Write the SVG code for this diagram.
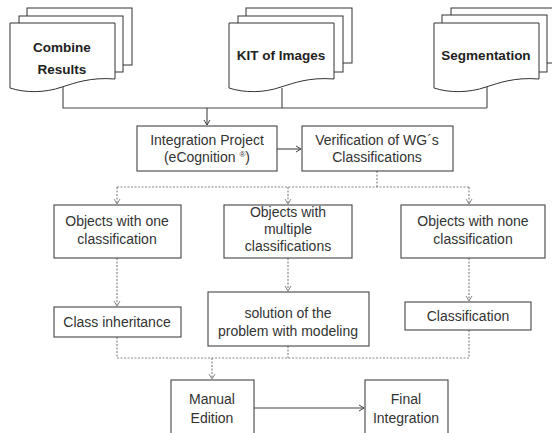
<svg xmlns="http://www.w3.org/2000/svg" width="552" height="433" viewBox="0 0 552 433">
<defs>
<style>
.bg{fill:#ffffff}
.pg{fill:#ffffff;stroke:#333;stroke-width:1}
.box{fill:#ffffff;stroke:#444;stroke-width:1.1}
.ln{fill:none;stroke:#444;stroke-width:1.1}
.dl{fill:none;stroke:#888;stroke-width:1.2;stroke-dasharray:2 1.5}
.b{font-family:"Liberation Sans",Arial,sans-serif;font-weight:bold;font-size:13.5px;fill:#222;text-anchor:middle}
.t{font-family:"Liberation Sans",Arial,sans-serif;font-size:14px;fill:#333;text-anchor:middle}
</style>
<marker id="ah" markerWidth="8" markerHeight="8" refX="6" refY="4" orient="auto" markerUnits="userSpaceOnUse">
<path d="M1,1 L6,4 L1,7" fill="none" stroke="#444" stroke-width="1"/>
</marker>
<marker id="ahd" markerWidth="8" markerHeight="8" refX="6" refY="4" orient="auto" markerUnits="userSpaceOnUse">
<path d="M1,1 L6,4 L1,7" fill="none" stroke="#888" stroke-width="1"/>
</marker>
<path id="doc" d="M0,0 H105 V56 C80,54 65,60 52,64 C35,70 15,70 0,65 Z"/>
</defs>
<rect class="bg" x="0" y="0" width="552" height="433"/>

<g id="connectors">
<path class="ln" d="M63,86 V108 H487 M282,88 V108 M487,86 V108"/>
<path class="ln" d="M207,108 V125" marker-end="url(#ah)"/>
<path class="ln" d="M277,149 H301" marker-end="url(#ah)"/>
<path class="dl" d="M377,171 V187 M117,187 H469"/>
<path class="dl" d="M117,187 V204" marker-end="url(#ahd)"/>
<path class="dl" d="M288,187 V204" marker-end="url(#ahd)"/>
<path class="dl" d="M469,187 V204" marker-end="url(#ahd)"/>
<path class="dl" d="M117,258 V306" marker-end="url(#ahd)"/>
<path class="dl" d="M288,258 V291" marker-end="url(#ahd)"/>
<path class="dl" d="M469,258 V301" marker-end="url(#ahd)"/>
<path class="dl" d="M117,337 V358 H469 V330 M288,346 V358"/>
<path class="dl" d="M212,358 V379" marker-end="url(#ahd)"/>
<path class="ln" d="M254,408 H364" marker-end="url(#ah)"/>
</g>

<g id="combine-results">
<rect class="pg" x="27" y="8" width="105" height="57"/>
<rect class="pg" x="19" y="16" width="104" height="56"/>
<use href="#doc" class="pg" x="10" y="23"/>
<text class="b" x="62" y="52">Combine</text>
<text class="b" x="62" y="74">Results</text>
</g>

<g id="kit-of-images">
<rect class="pg" x="246" y="8" width="106" height="55"/>
<rect class="pg" x="238" y="16" width="105" height="56"/>
<use href="#doc" class="pg" x="229" y="23"/>
<text class="b" x="281" y="60">KIT of Images</text>
</g>

<g id="segmentation">
<rect class="pg" x="451" y="8" width="106" height="55"/>
<rect class="pg" x="442" y="15" width="105" height="57"/>
<use href="#doc" class="pg" x="434" y="23"/>
<text class="b" x="486" y="60">Segmentation</text>
</g>

<g id="integration-project">
<rect class="box" x="137" y="126" width="140" height="45"/>
<text class="t" x="207" y="145">Integration Project</text>
<text class="t" x="207" y="162">(eCognition <tspan font-size="8" dy="-5">®</tspan><tspan dy="5">)</tspan></text>
</g>

<g id="verification">
<rect class="box" x="302" y="126" width="151" height="45"/>
<text class="t" x="377" y="145">Verification of WG´s</text>
<text class="t" x="377" y="162">Classifications</text>
</g>

<g id="objects-one">
<rect class="box" x="54" y="205" width="127" height="53"/>
<text class="t" x="117" y="226">Objects with one</text>
<text class="t" x="117" y="244">classification</text>
</g>

<g id="objects-multiple">
<rect class="box" x="224" y="205" width="128" height="53"/>
<text class="t" x="288" y="217">Objects with</text>
<text class="t" x="288" y="234">multiple</text>
<text class="t" x="288" y="251">classifications</text>
</g>

<g id="objects-none">
<rect class="box" x="401" y="205" width="144" height="53"/>
<text class="t" x="473" y="226">Objects with none</text>
<text class="t" x="473" y="244">classification</text>
</g>

<g id="class-inheritance">
<rect class="box" x="54" y="307" width="127" height="30"/>
<text class="t" x="117" y="327">Class inheritance</text>
</g>

<g id="solution">
<rect class="box" x="208" y="292" width="161" height="54"/>
<text class="t" x="288" y="318">solution of the</text>
<text class="t" x="288" y="336">problem with modeling</text>
</g>

<g id="classification">
<rect class="box" x="405" y="302" width="126" height="28"/>
<text class="t" x="468" y="321">Classification</text>
</g>

<g id="manual-edition">
<rect class="box" x="171" y="380" width="83" height="60"/>
<text class="t" x="212" y="404">Manual</text>
<text class="t" x="212" y="423">Edition</text>
</g>

<g id="final-integration">
<rect class="box" x="365" y="380" width="83" height="60"/>
<text class="t" x="406" y="404">Final</text>
<text class="t" x="406" y="423">Integration</text>
</g>
</svg>
